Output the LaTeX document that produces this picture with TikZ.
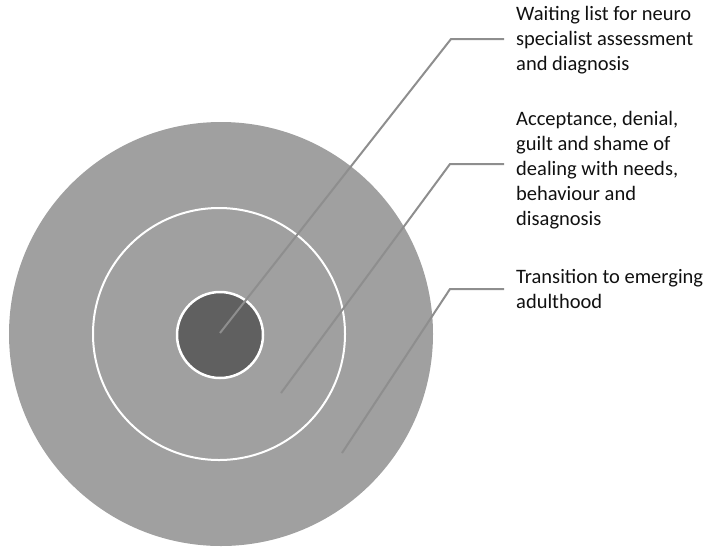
\documentclass[tikz,border=0pt]{standalone}
\usepackage{fontspec}
\setmainfont{Carlito}
\usepackage{tikz}
\usetikzlibrary{positioning,calc}
\usepackage{xcolor}
\definecolor{ringgray}{HTML}{A0A0A0}
\definecolor{coregray}{HTML}{606060}
\definecolor{leadgray}{HTML}{8E8E8E}
\definecolor{textdark}{HTML}{111111}

\begin{document}
\begin{tikzpicture}[
    x=1pt, y=-1pt,
    ring/.style={circle, inner sep=0pt, fill=ringgray},
    boundary/.style={circle, inner sep=0pt, draw=white, line width=2pt},
    core/.style={circle, inner sep=0pt, fill=coregray, draw=white, line width=2.5pt},
    label/.style={anchor=west, inner xsep=12pt, inner ysep=0pt, align=left, text=textdark, font=\fontsize{20.5}{25}\selectfont},
    leader/.style={draw=leadgray, line width=2pt}
]
\useasboundingbox (0,0) rectangle (708,549);

% Circles
\node[ring, minimum size=424pt] (outer) at (221,334) {};
\node[boundary, minimum size=252pt] (middle) at (219,334) {};
\node[core, minimum size=86pt] (inner) at (220,335) {};

% Labels
\node[label] (waiting) at (504,40) {Waiting list for neuro\\specialist assessment\\and diagnosis};
\node[label] (accept) at (504,170) {Acceptance, denial,\\guilt and shame of\\dealing with needs,\\behaviour and\\disagnosis};
\node[label] (transit) at (504,289) {Transition to emerging\\adulthood};

% Leader points
\coordinate (p1) at (220,333);
\coordinate (k1) at (451,39);
\coordinate (p2) at (281,393);
\coordinate (k2) at (450,164);
\coordinate (p3) at (342,453);
\coordinate (k3) at (450,289);

% Leaders
\draw[leader] (p1) -- (k1) -- (k1 -| waiting.west);
\draw[leader] (p2) -- (k2) -- (k2 -| accept.west);
\draw[leader] (p3) -- (k3) -- (k3 -| transit.west);

\end{tikzpicture}
\end{document}
